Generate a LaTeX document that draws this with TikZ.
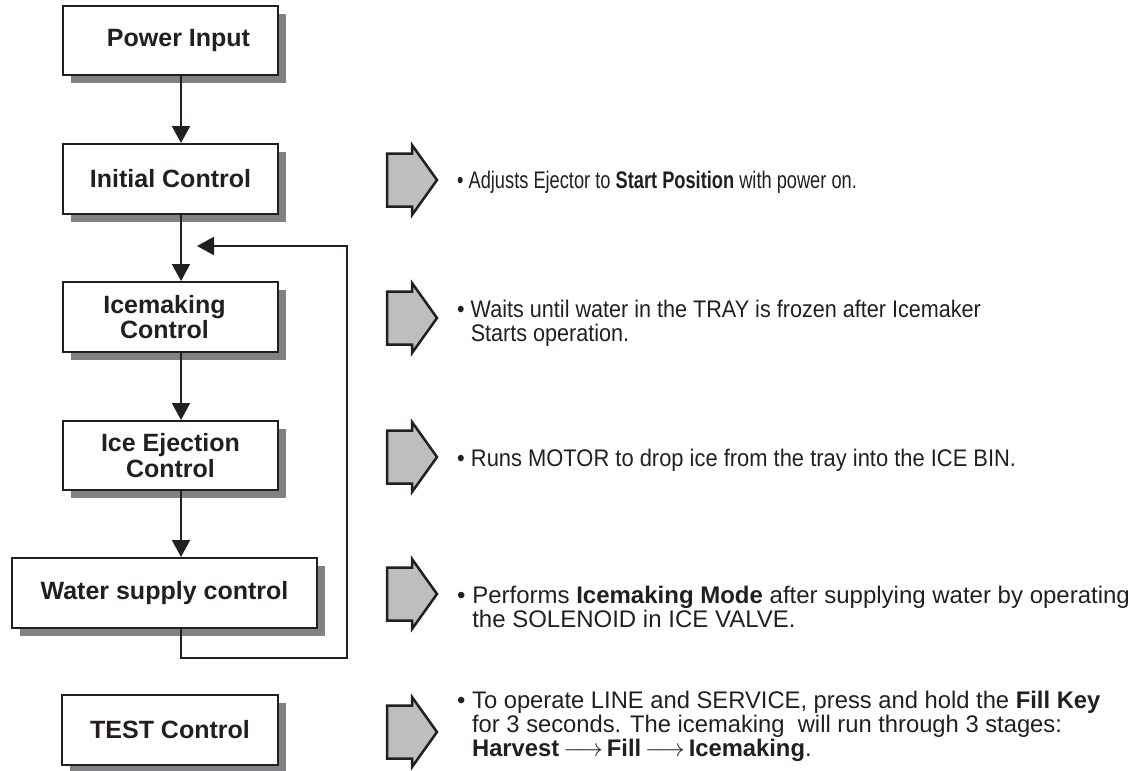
\documentclass[tikz,border=0pt]{standalone}
\usepackage{fontspec}
\setmainfont{Liberation Sans}
\usetikzlibrary{arrows.meta,shadows}
\definecolor{ink}{HTML}{231F20}
\definecolor{shade}{HTML}{808285}
\definecolor{arrfill}{HTML}{BCBEC0}
\newcommand\hsq[2]{\scalebox{#1}[1]{#2}}
\begin{document}
\begin{tikzpicture}[x=1pt,y=-1pt,
  box/.style={draw=ink, line width=2pt, fill=white, inner sep=0pt, anchor=north west,
    font=\fontsize{25}{25.5}\selectfont\bfseries, text=ink, align=center,
    drop shadow={shadow xshift=8pt, shadow yshift=-8pt, fill=shade, opacity=1}},
  flow/.style={draw=ink, line width=2pt, -{Triangle[width=18pt,length=17pt]}},
  desc/.style={anchor=base west, inner sep=0pt, font=\fontsize{24}{24}\selectfont, text=ink, align=left},
  bigarr/.pic={\draw[draw=ink, fill=arrfill, line width=2.5pt, line join=miter]
    (0,-26.5) -- (25,-26.5) -- (25,-35) -- (50,0) -- (25,35) -- (25,26.5) -- (0,26.5) -- cycle;}
]
\useasboundingbox (0,0) rectangle (1130,771);

% flow boxes
\node[box, minimum width=215pt, minimum height=69pt] (pow) at (62,5) {\hspace*{16pt}Power Input};
\node[box, minimum width=215pt, minimum height=70pt] (init) at (62,143) {Initial Control};
\node[box, minimum width=215pt, minimum height=70pt] (ice) at (62,281) {Icemaking\hspace*{12pt}\\Control\hspace*{12pt}};
\node[box, minimum width=215pt, minimum height=69pt] (eject) at (62,420) {Ice Ejection\\Control};
\node[box, minimum width=305pt, minimum height=70pt] (water) at (11,557) {Water supply control};
\node[box, minimum width=216pt, minimum height=70pt] (test) at (61,694) {TEST Control};

% connectors
\coordinate (xl) at (181,0);
\coordinate (loopc) at (347,658);
\coordinate (tipc) at (197,246);
\draw[flow] (pow.south -| xl) -- (init.north -| xl);
\draw[flow] (init.south -| xl) -- (ice.north -| xl);
\draw[flow] (ice.south -| xl) -- (eject.north -| xl);
\draw[flow] (eject.south -| xl) -- (water.north -| xl);
\draw[flow] (water.south -| xl) |- (loopc) |- (tipc);

% big arrows
\pic at (387,180) {bigarr};
\pic at (387,318) {bigarr};
\pic at (387,457) {bigarr};
\pic at (387,594) {bigarr};
\pic at (387,732) {bigarr};

% descriptions
\node[desc] (d1) at (457,188.5) {\hsq{0.76}{• Adjusts Ejector to \textbf{Start Position} with power on.}};
\node[desc] (d2) at (457,341) {\hsq{0.9}{• Waits until water in the TRAY is frozen after Icemaker}\\\hsq{0.9}{\hphantom{• }Starts operation.}};
\node[desc] (d3) at (457,466) {\hsq{0.913}{• Runs MOTOR to drop ice from the tray into the ICE BIN.}};
\node[desc] (d4) at (457,627) {• Performs \textbf{Icemaking Mode} after supplying water by operating\\\hphantom{• }the SOLENOID in ICE VALVE.};
\node[desc] (d5) at (457,756) {\hsq{0.99}{• To operate LINE and SERVICE, press and hold the \textbf{Fill Key}}\\\hsq{0.99}{\hphantom{• }for 3 seconds. The icemaking\ \ will run through 3 stages:}\\\hsq{0.99}{\hphantom{• }\textbf{Harvest}\,$\longrightarrow$\,\textbf{Fill}\,$\longrightarrow$\,\textbf{Icemaking}.}};
\end{tikzpicture}
\end{document}
